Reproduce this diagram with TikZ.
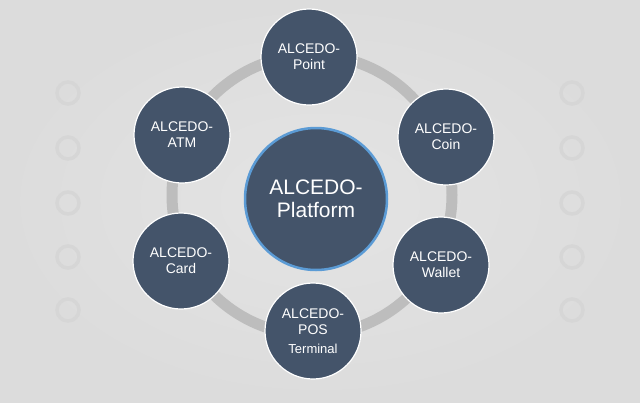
\documentclass[tikz,border=0pt]{standalone}
\usepackage{fontspec}
\setmainfont{Liberation Sans}

\definecolor{slate}{HTML}{44546A}
\definecolor{ringgray}{HTML}{BDBDBD}
\definecolor{bgouter}{HTML}{DCDCDC}
\definecolor{bginner}{HTML}{E4E4E4}
\definecolor{decogray}{HTML}{D6D6D6}
\definecolor{edgeblue}{HTML}{5B9BD5}

\begin{document}
\begin{tikzpicture}[x=1pt, y=-1pt,
    module/.style={circle, fill=slate, draw=white, line width=1.2pt,
        minimum size=96pt, inner sep=0pt, text=white, align=center,
        font=\fontsize{14}{16}\selectfont},
    hub/.style={circle, fill=slate, draw=edgeblue, line width=2.5pt,
        minimum size=142pt, inner sep=0pt, text=white, align=center,
        font=\fontsize{21}{23}\selectfont},
    deco/.style={decogray, line width=3.5pt}]

    % Background
    \shade[inner color=bginner, outer color=bgouter] (0,0) rectangle (640,402);
    \useasboundingbox (0,0) rectangle (640,402);

    % Faint rings at the sides
    \foreach \y in {93,148,203,257,310} {
        \draw[deco] (68,\y) circle (11pt);
        \draw[deco] (572,\y) circle (11pt);
    }

    % Ring through the modules
    \coordinate (ctr) at (312,195);
    \draw[ringgray, line width=11pt] (ctr) circle (140pt);

    % Centre
    \node[hub] (platform) at (316,199) {ALCEDO-\\Platform};

    % Modules round the ring
    \node[module] (point)  at (309,57)  {ALCEDO-\\Point};
    \node[module] (coin)   at (446,137) {ALCEDO-\\Coin};
    \node[module] (wallet) at (441,265) {ALCEDO-\\Wallet};
    \node[module] (pos)    at (313,331) {ALCEDO-\\POS\\[3pt]{\fontsize{13}{15}\selectfont Terminal}};
    \node[module] (card)   at (181,261) {ALCEDO-\\Card};
    \node[module] (atm)    at (182,135) {ALCEDO-\\ATM};
\end{tikzpicture}
\end{document}
